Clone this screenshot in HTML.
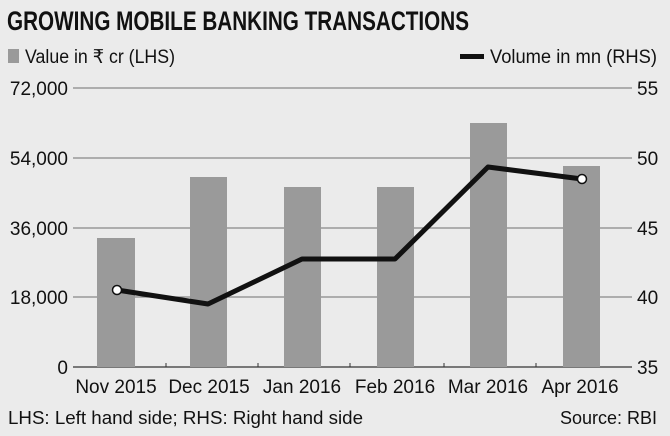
<!DOCTYPE html>
<html><head><style>
body{margin:0;width:670px;height:436px;background:#ebebeb;overflow:hidden}
svg{display:block}
text{font-family:"Liberation Sans Narrow","Liberation Sans",sans-serif;fill:#111}
</style></head><body>
<svg width="670" height="436" viewBox="0 0 670 436">
<rect width="670" height="436" fill="#ebebeb"/>
<text x="7" y="30" font-size="27" font-weight="bold" textLength="462" lengthAdjust="spacingAndGlyphs">GROWING MOBILE BANKING TRANSACTIONS</text>
<rect x="8" y="49" width="11" height="14" fill="#9a9a9a"/>
<text x="25" y="63" font-size="19" textLength="150" lengthAdjust="spacingAndGlyphs">Value in ₹ cr (LHS)</text>
<rect x="460" y="54" width="24" height="5" fill="#111"/>
<text x="490" y="63" font-size="19" textLength="167" lengthAdjust="spacingAndGlyphs">Volume in mn (RHS)</text>
<g stroke="#888" stroke-width="1.2">
<line x1="73" y1="88" x2="632" y2="88"/>
<line x1="73" y1="158" x2="632" y2="158"/>
<line x1="73" y1="228" x2="632" y2="228"/>
<line x1="73" y1="297" x2="632" y2="297"/>
<line x1="73" y1="367" x2="632" y2="367" stroke="#333"/>
</g>
<g font-size="19">
<text x="68" y="95" text-anchor="end">72,000</text>
<text x="68" y="165" text-anchor="end">54,000</text>
<text x="68" y="235" text-anchor="end">36,000</text>
<text x="68" y="304" text-anchor="end">18,000</text>
<text x="68" y="374" text-anchor="end">0</text>
<text x="637" y="95">55</text>
<text x="637" y="165">50</text>
<text x="637" y="235">45</text>
<text x="637" y="304">40</text>
<text x="637" y="374">35</text>
</g>
<g fill="#9a9a9a">
<rect x="97" y="238" width="38" height="129"/>
<rect x="190" y="177" width="37" height="190"/>
<rect x="284" y="187" width="37" height="180"/>
<rect x="377" y="187" width="37" height="180"/>
<rect x="470" y="123" width="37" height="244"/>
<rect x="563" y="166" width="37" height="201"/>
</g>
<g stroke="#333" stroke-width="1">
<line x1="166" y1="363" x2="166" y2="367"/><line x1="258" y1="363" x2="258" y2="367"/>
<line x1="350" y1="363" x2="350" y2="367"/><line x1="444" y1="363" x2="444" y2="367"/>
<line x1="536" y1="363" x2="536" y2="367"/>
</g>
<polyline points="117,290 208,304 302,259 395,259 488,167 582,179" fill="none" stroke="#111" stroke-width="5" stroke-linejoin="round"/>
<circle cx="117" cy="290" r="4.5" fill="#fff" stroke="#111" stroke-width="1.5"/>
<circle cx="582" cy="179" r="4.5" fill="#fff" stroke="#111" stroke-width="1.5"/>
<g font-size="19" text-anchor="middle">
<text x="116" y="393">Nov 2015</text>
<text x="209" y="393">Dec 2015</text>
<text x="302" y="393">Jan 2016</text>
<text x="395" y="393">Feb 2016</text>
<text x="488" y="393">Mar 2016</text>
<text x="580" y="393">Apr 2016</text>
</g>
<text x="8" y="424" font-size="18" textLength="355" lengthAdjust="spacingAndGlyphs">LHS: Left hand side; RHS: Right hand side</text>
<text x="657" y="424" font-size="18" text-anchor="end">Source: RBI</text>
</svg>
</body></html>
